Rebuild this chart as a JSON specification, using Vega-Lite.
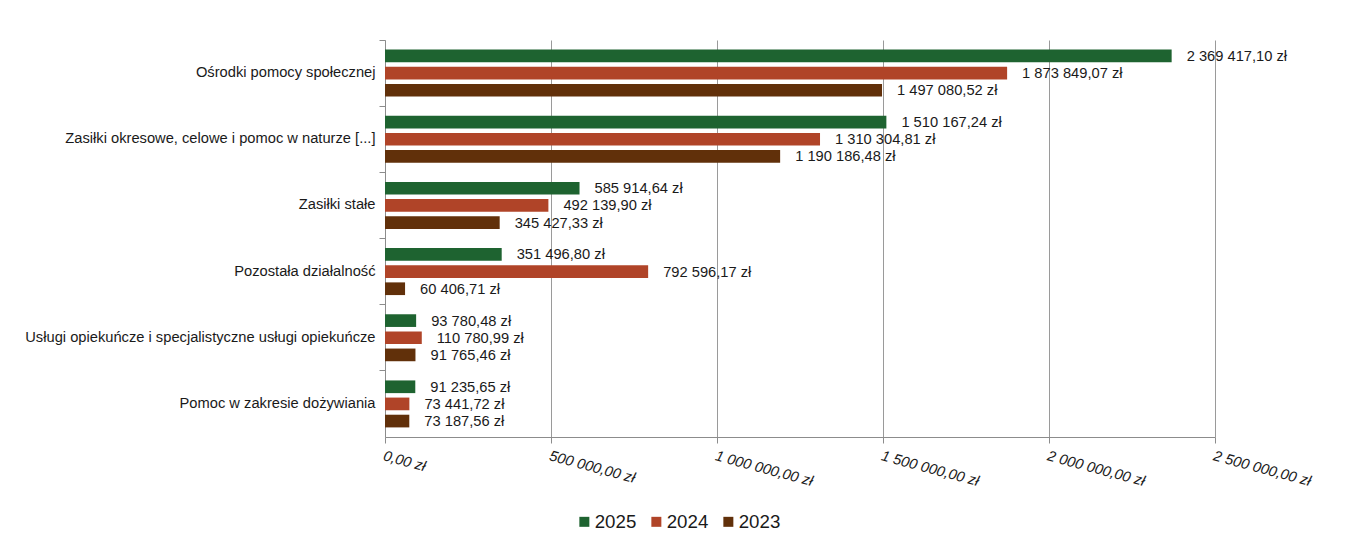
{
  "$schema": "https://vega.github.io/schema/vega-lite/v6.json",
  "autosize": {"type": "none"},
  "width": 830,
  "height": 397,
  "padding": {"left": 385, "top": 40, "right": 131, "bottom": 115},
  "background": "white",
  "config": {
    "locale": {
      "number": {"decimal": ",", "thousands": " ", "grouping": [3], "currency": ["", " zł"]}
    },
    "view": {"stroke": null},
    "font": "Liberation Sans"
  },
  "data": {
    "values": [
      {"kat": "Ośrodki pomocy społecznej", "rok": "2025", "kwota": 2369417.10},
      {"kat": "Ośrodki pomocy społecznej", "rok": "2024", "kwota": 1873849.07},
      {"kat": "Ośrodki pomocy społecznej", "rok": "2023", "kwota": 1497080.52},
      {"kat": "Zasiłki okresowe, celowe i pomoc w naturze [...]", "rok": "2025", "kwota": 1510167.24},
      {"kat": "Zasiłki okresowe, celowe i pomoc w naturze [...]", "rok": "2024", "kwota": 1310304.81},
      {"kat": "Zasiłki okresowe, celowe i pomoc w naturze [...]", "rok": "2023", "kwota": 1190186.48},
      {"kat": "Zasiłki stałe", "rok": "2025", "kwota": 585914.64},
      {"kat": "Zasiłki stałe", "rok": "2024", "kwota": 492139.90},
      {"kat": "Zasiłki stałe", "rok": "2023", "kwota": 345427.33},
      {"kat": "Pozostała działalność", "rok": "2025", "kwota": 351496.80},
      {"kat": "Pozostała działalność", "rok": "2024", "kwota": 792596.17},
      {"kat": "Pozostała działalność", "rok": "2023", "kwota": 60406.71},
      {"kat": "Usługi opiekuńcze i specjalistyczne usługi opiekuńcze", "rok": "2025", "kwota": 93780.48},
      {"kat": "Usługi opiekuńcze i specjalistyczne usługi opiekuńcze", "rok": "2024", "kwota": 110780.99},
      {"kat": "Usługi opiekuńcze i specjalistyczne usługi opiekuńcze", "rok": "2023", "kwota": 91765.46},
      {"kat": "Pomoc w zakresie dożywiania", "rok": "2025", "kwota": 91235.65},
      {"kat": "Pomoc w zakresie dożywiania", "rok": "2024", "kwota": 73441.72},
      {"kat": "Pomoc w zakresie dożywiania", "rok": "2023", "kwota": 73187.56}
    ]
  },
  "encoding": {
    "y": {
      "field": "kat", "type": "nominal", "sort": null, "title": null,
      "scale": {"paddingInner": 0.29, "paddingOuter": 0.145},
      "axis": {
        "labelFontSize": 14.7, "labelColor": "#1a1a1a", "labelLimit": 0, "labelPadding": 4,
        "domainColor": "#8c8c8c", "tickColor": "#8c8c8c", "tickSize": 6,
        "bandPosition": -0.204, "labelOffset": 0, "grid": false
      }
    },
    "yOffset": {
      "field": "rok", "type": "nominal", "sort": ["2025", "2024", "2023"],
      "scale": {"paddingInner": 0.26, "paddingOuter": 0}
    },
    "x": {
      "field": "kwota", "type": "quantitative", "title": null,
      "scale": {"domain": [0, 2500000], "nice": false},
      "axis": {
        "values": [0, 500000, 1000000, 1500000, 2000000, 2500000],
        "format": "$,.2f", "labelAngle": 15, "labelAlign": "left", "labelBaseline": "top",
        "labelFontSize": 14.7, "labelFontStyle": "italic", "labelColor": "#1a1a1a", "labelPadding": 5,
        "labelOverlap": false, "labelBound": false, "labelFlush": false,
        "domainColor": "#8c8c8c", "tickColor": "#8c8c8c", "tickSize": 6,
        "grid": true, "gridColor": "#9a9a9a", "gridWidth": 1
      }
    }
  },
  "layer": [
    {
      "mark": {"type": "bar", "cornerRadius": 0},
      "encoding": {
        "color": {
          "field": "rok", "type": "nominal",
          "scale": {"domain": ["2025", "2024", "2023"], "range": ["#1e6330", "#b04428", "#61300a"]},
          "legend": {
            "title": null, "orient": "none", "direction": "horizontal",
            "legendX": 190, "legendY": 472,
            "symbolType": "square", "symbolSize": 100, "symbolStrokeWidth": 0,
            "labelFontSize": 18.7, "labelColor": "#1a1a1a", "columnPadding": 10, "labelOffset": 1
          }
        }
      }
    },
    {
      "mark": {"type": "text", "align": "left", "baseline": "middle", "dx": 15, "dy": 1, "fontSize": 14.7, "color": "#1a1a1a"},
      "encoding": {
        "text": {"field": "kwota", "type": "quantitative", "format": "$,.2f"}
      }
    }
  ]
}
